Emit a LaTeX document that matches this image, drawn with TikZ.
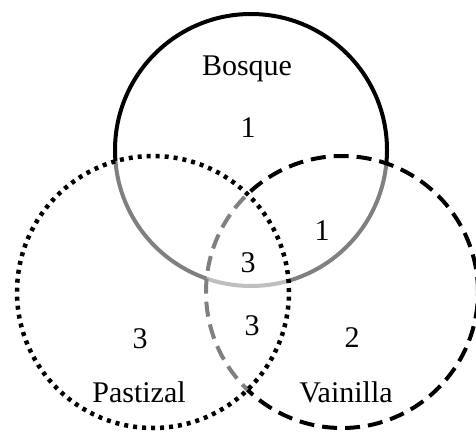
\documentclass[tikz,border=0pt]{standalone}
\usepackage{fontspec}
\setmainfont{Liberation Serif}
\begin{document}
\begin{tikzpicture}[x=1pt, y=-1pt,
    ring/.style={circle, inner sep=0pt, minimum size=272pt, line width=4pt},
    veil/.style={fill=white, fill opacity=0.5},
    lbl/.style={anchor=base, inner sep=0pt, font=\fontsize{30}{32}\selectfont}]
    \useasboundingbox (0,0) rectangle (476,433);

    % the three sets, back to front
    \node[ring, draw] (bosque) at (251,150) {};
    \node[ring, draw, veil, dash pattern=on 15pt off 8pt] (vainilla) at (342,292) {};
    \node[ring, draw, veil, line width=4.5pt, dash pattern=on 4pt off 5pt] (pastizal) at (153,292) {};

    % names
    \node[lbl] (nbosque) at (247,76) {Bosque};
    \node[lbl] (npastizal) at (139,402) {Pastizal};
    \node[lbl] (nvainilla) at (346,402) {Vainilla};

    % counts
    \node[lbl] (cb) at (248,137) {1};
    \node[lbl] (cbv) at (322,240) {1};
    \node[lbl] (call) at (248,272) {3};
    \node[lbl] (cpv) at (252,335) {3};
    \node[lbl] (cp) at (140,348) {3};
    \node[lbl] (cv) at (352,347) {2};
\end{tikzpicture}
\end{document}
